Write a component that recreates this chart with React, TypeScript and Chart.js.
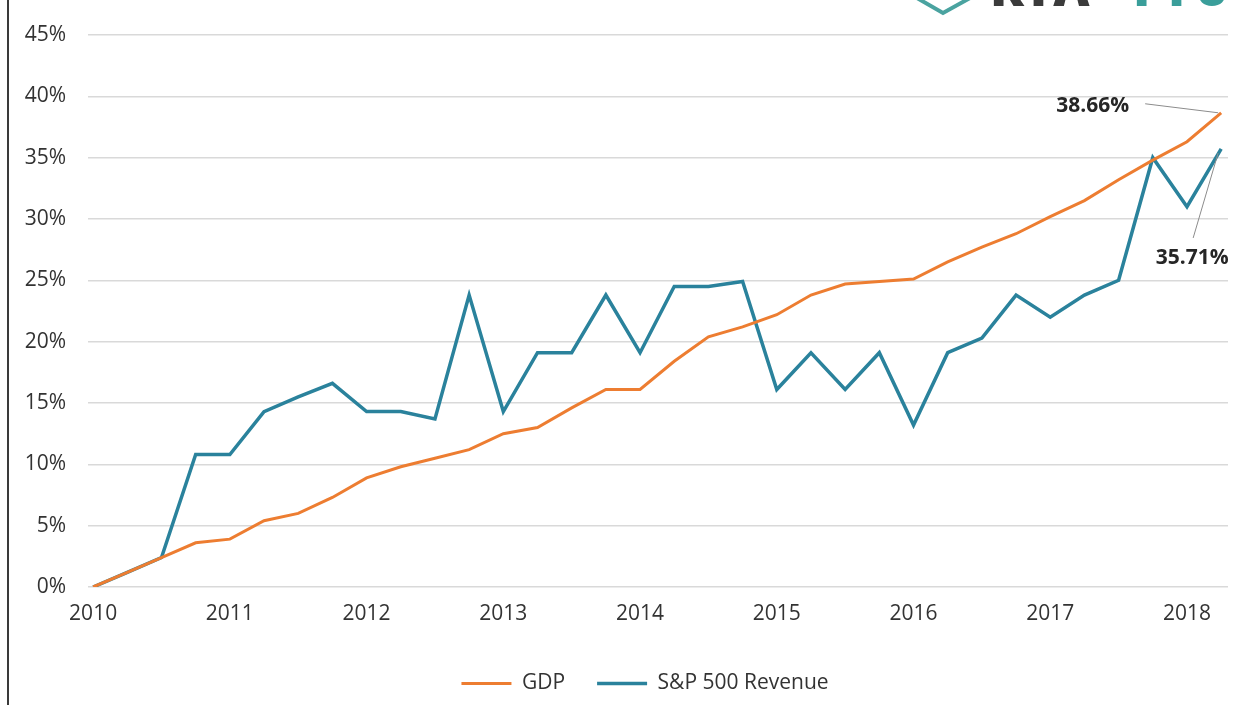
import React, { useEffect, useRef } from "react";
import { Chart, registerables } from "chart.js";

Chart.register(...registerables);

const yearLabels = ["2010", "2011", "2012", "2013", "2014", "2015", "2016", "2017", "2018"];
const quarterIndex = Array.from({ length: 34 }, (_, i) => i);

const gdp = [0, 1.2, 2.4, 3.6, 3.9, 5.4, 6.0, 7.3, 8.9, 9.8, 10.5, 11.2, 12.5, 13.0, 14.6, 16.1, 16.1, 18.4, 20.4, 21.2, 22.2, 23.8, 24.7, 24.9, 25.1, 26.5, 27.7, 28.8, 30.2, 31.5, 33.2, 34.8, 36.3, 38.66];
const spRevenue = [0, 1.2, 2.4, 10.8, 10.8, 14.3, 15.5, 16.6, 14.3, 14.3, 13.7, 23.8, 14.3, 19.1, 19.1, 23.8, 19.1, 24.5, 24.5, 24.9, 16.1, 19.1, 16.1, 19.1, 13.2, 19.1, 20.3, 23.8, 22.0, 23.8, 25.0, 35.0, 31.0, 35.71];

const ORANGE = "#ED7D31";
const TEAL = "#2A829C";
const FONT = "'Open Sans', 'Liberation Sans', sans-serif";
const FS = 21;

const endLabels = {
  id: "endLabels",
  afterDatasetsDraw(chart: any) {
    const ctx = chart.ctx;
    const m0 = chart.getDatasetMeta(0).data;
    const m1 = chart.getDatasetMeta(1).data;
    const p0 = m0[m0.length - 1];
    const p1 = m1[m1.length - 1];
    ctx.save();
    ctx.strokeStyle = "#8c8c8c";
    ctx.lineWidth = 1;
    ctx.beginPath();
    ctx.moveTo(p0.x - 76, p0.y - 9);
    ctx.lineTo(p0.x - 3, p0.y);
    ctx.moveTo(p1.x - 3, p1.y + 4);
    ctx.lineTo(p1.x - 28, p1.y + 89);
    ctx.stroke();
    ctx.fillStyle = "#262626";
    ctx.font = `bold ${FS}px ${FONT}`;
    ctx.textBaseline = "middle";
    ctx.textAlign = "right";
    ctx.fillText(`${gdp[gdp.length - 1].toFixed(2)}%`, p0.x - 92, p0.y - 7);
    ctx.textAlign = "center";
    ctx.fillText(`${spRevenue[spRevenue.length - 1].toFixed(2)}%`, p1.x - 29, p1.y + 109);
    ctx.restore();
  },
};

const shiftLegend = {
  id: "shiftLegend",
  afterLayout(chart: any) {
    if (chart.legend) {
      chart.legend.left += 31;
      chart.legend.right += 31;
    }
  },
};

export default function App() {
  const ref = useRef<HTMLCanvasElement | null>(null);

  useEffect(() => {
    if (!ref.current) return;
    const chart = new Chart(ref.current, {
      type: "line",
      data: {
        labels: quarterIndex,
        datasets: [
          {
            label: "GDP",
            data: quarterIndex.map((i) => ({ x: i, y: gdp[i] })),
            borderColor: ORANGE,
            backgroundColor: ORANGE,
            borderWidth: 3,
            pointRadius: 0,
            tension: 0,
          },
          {
            label: "S&P 500 Revenue",
            data: quarterIndex.map((i) => ({ x: i, y: spRevenue[i] })),
            borderColor: TEAL,
            backgroundColor: TEAL,
            borderWidth: 3.5,
            pointRadius: 0,
            tension: 0,
          },
        ],
      },
      options: {
        animation: false,
        responsive: false,
        maintainAspectRatio: false,
        layout: { padding: { top: 35, right: 20, bottom: 1, left: 0 } },
        scales: {
          x: {
            type: "linear",
            min: -0.15,
            max: 33.2,
            grid: { display: false },
            border: { display: false },
            afterBuildTicks: (scale: any) => {
              scale.ticks = yearLabels.map((_, k) => ({ value: k * 4 }));
            },
            afterFit: (scale: any) => {
              scale.height = 54;
            },
            ticks: {
              autoSkip: false,
              maxRotation: 0,
              padding: 6,
              color: "#333333",
              font: { family: FONT, size: FS },
              callback: (v: any) => yearLabels[Math.round(Number(v) / 4)] ?? "",
            },
          },
          y: {
            min: 0,
            max: 45,
            grid: { color: "#d9d9d9", lineWidth: 1.5, drawTicks: false },
            border: { display: false },
            afterFit: (scale: any) => {
              scale.width = 88;
            },
            ticks: {
              stepSize: 5,
              padding: 22,
              color: "#333333",
              font: { family: FONT, size: FS },
              callback: (v: any) => `${v}%`,
            },
          },
        },
        plugins: {
          tooltip: { enabled: false },
          legend: {
            position: "bottom",
            labels: {
              usePointStyle: true,
              pointStyle: "line",
              pointStyleWidth: 50,
              padding: 32,
              color: "#333333",
              font: { family: FONT, size: FS },
            },
          },
        },
      },
      plugins: [endLabels, shiftLegend],
    });
    return () => chart.destroy();
  }, []);

  return (
    <div style={{ position: "fixed", left: 0, top: 0, width: 1248, height: 705, background: "#fff", overflow: "hidden" }}>
      <div style={{ position: "absolute", left: 7, top: 0, width: 2, height: 705, background: "#3a3a3a" }} />
      <svg width={1248} height={30} style={{ position: "absolute", left: 0, top: 0 }}>
        <polyline points="917,-2 943,13 970,-2" fill="none" stroke="#4aa3a0" strokeWidth={4} />
      </svg>
      <div
        style={{
          position: "absolute",
          left: 990,
          top: -38,
          fontFamily: FONT,
          fontWeight: 800,
          fontSize: 50,
          lineHeight: "50px",
          letterSpacing: 6,
          whiteSpace: "nowrap",
          color: "#3b3b3b",
        }}
      >
        RIA
      </div>
      <div
        style={{
          position: "absolute",
          left: 1133,
          top: -38,
          fontFamily: FONT,
          fontWeight: 800,
          fontSize: 50,
          lineHeight: "50px",
          letterSpacing: 4,
          whiteSpace: "nowrap",
          color: "#3a9e9a",
        }}
      >
        Pro
      </div>
      <canvas ref={ref} width={1248} height={705} style={{ position: "absolute", left: 0, top: 0 }} />
    </div>
  );
}
